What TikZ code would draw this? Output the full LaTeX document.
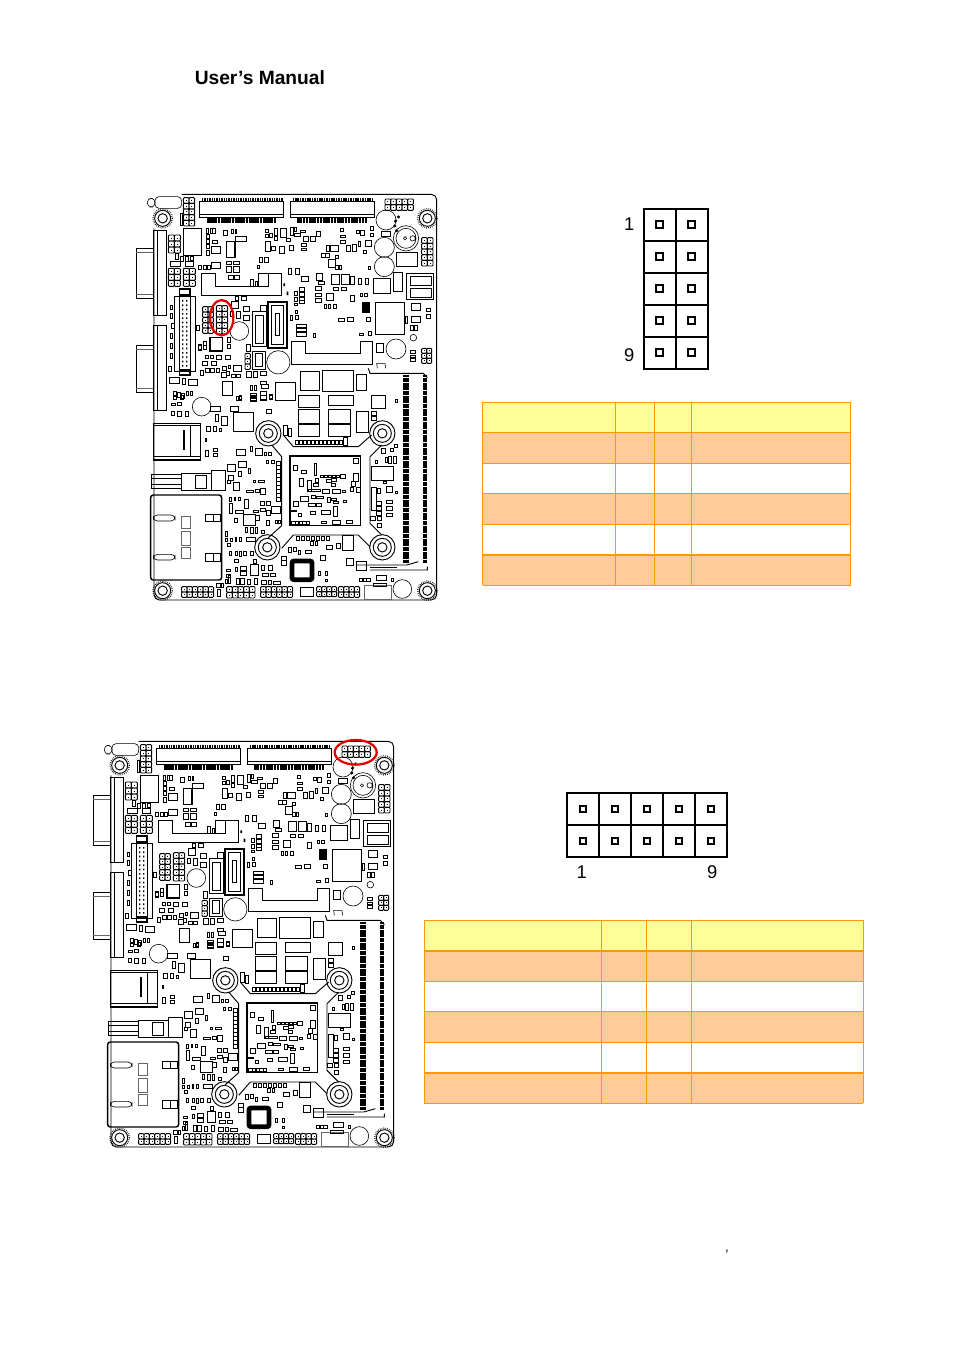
\documentclass[tikz,border=0pt]{standalone}
\usepackage{fontspec}
\setmainfont{Liberation Sans}
\usetikzlibrary{positioning,shapes.geometric}
\definecolor{headfill}{HTML}{FFFF99}
\definecolor{rowfill}{HTML}{FFCC99}
\definecolor{rowline}{HTML}{FF9900}
\tikzset{
    % board drawing
    part/.style={draw=black,line width=.45pt},
    greypart/.style={draw=black!60,line width=.7pt},
    heavypart/.style={draw=black,line width=1.1pt},
    % pin header cells
    pincell/.style={rectangle,draw=black,line width=1.5pt,minimum size=24pt,inner sep=0pt,outer sep=0pt},
    pinhole/.style={rectangle,draw=black,line width=1.5pt,minimum size=5pt,inner sep=0pt},
    pinlabel/.style={inner sep=0pt,font=\fontsize{13.8pt}{15pt}\selectfont},
    % red marks on the board
    redmark/.style={ellipse,draw=red!90!black,line width=1.7pt,inner sep=0pt}
}
% x, y, columns, rows, pitch: header on the board
\newcommand\boardhdr[5]{
  \foreach \c in {1,...,#3}
    \foreach \r in {1,...,#4} {
      \draw[draw=black,line width=.65pt,rounded corners=.7pt] ({#1+(\c-1)*#5},{#2+(\r-1)*#5}) rectangle ++(#5,#5);
      \fill ({#1+(\c-.5)*#5-1.5},{#2+(\r-.5)*#5-1.5}) rectangle ++(3,3);
    }
}
% x0, y0, x1, y1 with the coordinates of the top part of the board
\newcommand\boardart{
  % outline
  \draw[part,line width=.7pt,rounded corners=4pt] (125,28) -- (890,28) -- (890,1245) -- (42,1245) -- (42,130);
  % ports on the left
  \foreach \a/\b/\c/\d in {40/135/78/390,40/420/78/675}
    \draw[heavypart,line width=.7pt] (\a,\b) rectangle (\c,\d) (52,\b) -- (52,\d);
  \foreach \a/\b in {190/340,480/622} {
    \draw[part] (-12,\a) rectangle (40,\b);
    \draw[greypart] (-12,\a+12) -- (40,\a+12) (-12,\b-12) -- (40,\b-12);
  }
  \draw[part,rounded corners=3pt] (45,35) rectangle (125,70);
  \draw[part,rounded corners=3pt] (22,40) rectangle (45,66);
  % mini card slots
  \foreach \a in {178,450} {
    \draw[part,line width=.7pt] (\a,50) rectangle (\a+253,98);
    \draw[line width=2.5pt,dash pattern=on 1.1pt off .7pt] (\a+8,43) -- (\a+250,43);
    \draw[line width=4.4pt,dash pattern=on 1.7pt off .4pt] (\a+22,104) -- (\a+230,104);
    \draw[part] (\a,88) -- (\a+253,88);
  }
  % headers
  \boardhdr{130}{38}{2}{5}{17}
  \boardhdr{735}{42}{5}{2}{17}
  \boardhdr{845}{158}{2}{5}{17}
  \boardhdr{85}{150}{2}{3}{18}
  \boardhdr{85}{250}{2}{3}{18}
  \boardhdr{130}{250}{2}{3}{18}
  \boardhdr{188}{365}{2}{5}{16}
  \boardhdr{229}{362}{2}{5}{17}
  \boardhdr{845}{490}{2}{3}{15}
  \boardhdr{315}{505}{1}{3}{16}
  % round parts
  \foreach \a/\b/\c in {738/105/30,733/187/30,733/245/30,298/438/28,415/532/35,768/492/30,820/458/10,
    185/665/28,787/1212/28}
    \draw[part] (\a,\b) circle (\c);
  \foreach \a/\b in {68/100,862/100,68/1217,862/1217} {
    \draw[part,densely dotted,line width=1pt] (\a,\b) circle (29);
    \draw[part,line width=.7pt] (\a,\b) circle (24) (\a,\b) circle (14);
  }
  \foreach \a/\b in {385/745,727/745,382/1087,727/1087} {
    \draw[part,line width=.7pt] (\a,\b) circle (38) (\a,\b) circle (27) (\a,\b) circle (14);
  }
  \draw[part] (798,160) circle (38) (798,160) circle (30) (818,160) circle (8) (795,160) circle (5);
  \draw[line width=1.8pt,dotted] (772,140) arc (140:240:32);
  % slots with a cut out
  \draw[part,line width=.7pt] (185,265) -- (225,265) -- (225,305) -- (385,305) -- (385,265) -- (425,265) -- (425,332) -- (185,332) -- cycle;
  \draw[part,line width=.7pt] (455,470) -- (497,470) -- (497,505) -- (660,505) -- (660,470) -- (697,470) -- (697,537) -- (455,537) -- cycle;
  % large and middle parts
  \foreach \a/\b/\c/\d in {130/130/185/210,700/280/752/325,760/262/788/318,707/352/793/448,768/203/833/243,800/265/880/342,
    810/275/875/300,810/310/875/338,247/590/277/630,405/592/465/645,480/558/538/615,547/557/640/620,648/568/680/615,
    710/475/730/503,530/265/548/285,575/268/597/297,605/268/628/297,338/380/378/485,338/498/375/552,345/390/370/475,345/505/368/545}
    \draw[part,line width=.6pt] (\a,\b) rectangle (\c,\d);
  \foreach \a/\b/\c/\d in {260/170/285/218,422/130/440/157,210/458/248/498}
    \draw[heavypart] (\a,\b) rectangle (\c,\d);
  \fill (665,350) rectangle (690,385);
  \draw[heavypart,line width=1.7pt] (385,352) rectangle (440,488);
  \draw[part] (405,385) rectangle (418,452) (395,362) rectangle (430,478);
  % small parts, top half
  \foreach \a/\b/\c/\d in {120/85/128/120,198/130/205/145,210/130/217/145,218/130/225/145,250/135/262/152,275/132/280/145,285/132/290/145,
    200/148/208/160,200/163/208/175,200/178/208/190,200/195/208/210,218/165/232/175,215/185/240/205,285/155/320/170,215/232/240/250,
    258/230/275/238,280/230/298/238,258/245/275/262,280/245/298/262,265/272/280/282,283/272/298/282,175/240/185/252,190/240/200/252,203/240/212/252,
    90/228/120/245,135/230/160/245,105/205/115/222,120/215/130/228,135/215/145/228,150/215/160/225,332/283/340/303,345/288/352/303,355/265/385/303,
    375/170/392/200,395/185/407/197,418/185/432/205,448/180/460/195,375/133/385/143,375/148/385/157,388/145/398/157,403/130/412/150,403/155/412/167,
    450/128/460/150,440/160/452/170,462/128/470/138,462/145/480/155,480/135/495/142,490/155/505/170,485/175/500/185,485/190/500/197,510/155/525/170,
    530/138/542/153,600/130/610/140,600/150/615/158,600/165/615/175,648/135/658/145,662/135/672/150,690/125/700/135,690/145/700/155,655/170/662/185,
    638/178/648/198,620/180/632/200,675/165/695/185,670/195/680/205,685/245/690/252,558/182/568/200,570/182/595/200,545/205/555/218,557/205/567/218,
    565/222/585/248,585/210/595/220,585/240/595/252,598/240/605/252,352/240/358/250,358/218/368/232,372/218/385/232,445/250/455/268,465/250/478/268,
    483/275/505/288,535/288/552/298,632/275/642/297,655/280/665/297,675/280/685/297,525/305/545/315,525/325/545/335,525/340/545/352,580/308/595/316,
    605/308/620/316,560/325/580/345,553/358/560/370,565/358/572/370,580/358/590/370,630/332/642/350,660/325/668/335,672/325/682/335,462/318/472/330,
    462/338/472/348,462/355/472/362,478/308/492/320,478/322/492/334,478/336/492/346,478/347/492/356,595/400/612/410,622/398/640/408,680/398/692/408,
    658/445/670/452,685/440/695/452,520/445/525/458,465/375/472/385,465/392/475/402,450/390/458/405,470/418/500/428,470/430/500/440,470/442/500/455,
    725/140/752/155,815/355/840/375,815/395/840/412,860/370/870/380,860/388/870/400,810/422/820/437,822/422/832/437,795/395/802/415,810/495/825/505,
    810/510/825/518,810/520/825/530,360/360/378/378,310/365/328/378,310/392/328/405,285/335/295/345,305/335/320/345,275/350/295/370,290/380/300/400,
    270/380/280/395,262/458/272/472,262/478/272/490,190/470/198/480,190/482/198/492,175/478/183/492,195/510/205/520,212/510/220/520,228/512/245/522,
    255/512/272/522,188/530/202/542,215/530/230/542,182/556/190/570,195/550/208/562,212/550/222/562,228/550/238/562,248/545/258/555,265/540/272/550,
    280/540/305/560,245/562/258/578,275/568/285/578,290/568/300/578,260/560/268/570,318/478/330/500,318/560/335/578,340/560/352/578,360/560/378/572,
    360/590/378/598,298/632/305/642,330/600/338/615,342/602/348/615,365/598/385/610,332/625/348/635,332/640/348/645,362/620/378/645,388/628/396/640,
    88/578/118/595,145/582/172/600,128/580/137/598,100/620/108/635,112/622/120/638,125/625/132/640,138/618/146/630,150/618/158/630,
    90/362/98/372,90/385/98/400,95/415/103/430,90/445/98/460,90/475/98/490,90/505/98/520,85/545/95/560,170/420/178/435,175/480/183/495}
    \draw[part] (\a,\b) rectangle (\c,\d);
  \fill (430,295) rectangle (435,303) (440,320) rectangle (445,330);
  % long connector
  \draw[part,line width=.6pt] (103,335) rectangle (165,560) (118,335) rectangle (150,560);
  \draw[heavypart] (118,312) rectangle (150,330) (118,555) rectangle (150,570);
  \foreach \d in {345,358,...,550}
    \fill (126,\d) rectangle ++(4,5) (138,\d) rectangle ++(4,5);
  % memory slot
  \draw[line width=4.5pt,dash pattern=on 1.6pt off .35pt] (798,570) -- (798,1135);
  \draw[line width=3pt,dash pattern=on 1.6pt off .35pt] (856,570) -- (856,1135);
  \draw[part,line width=.7pt] (685,550) -- (690,565) -- (850,565) -- (862,578);
  \draw[part] (710,535) -- (712,550) (735,535) -- (737,550) (710,535) -- (735,535);
  \draw[part,line width=.7pt] (650,1140) -- (800,1140) -- (835,1130) (690,1155) -- (862,1155) -- (862,1145);
  \draw[heavypart] (690,1148) -- (770,1148);
  \draw[part] (650,1130) rectangle (680,1155);
  % lower half: coordinates of the second crop
  \begin{scope}[shift={(0,630)}]
    % heat sink outline
    \draw[part,line width=.7pt] (395,150) -- (425,185) -- (425,392) -- (385,428)
      (430,120) -- (460,155) -- (655,155) -- (695,120)
      (725,150) -- (690,185) -- (690,385) -- (725,420)
      (425,460) -- (460,420) -- (655,420) -- (690,455);
    \draw[part,line width=.8pt] (450,183) rectangle (662,392);
    % ports
    \draw[heavypart] (40,85) rectangle (182,195);
    \draw[part] (150,92) rectangle (182,185) (40,92) -- (150,92) (40,185) -- (150,185);
    \fill (128,105) rectangle (135,165);
    \draw[part,line width=.7pt] (35,238) rectangle (125,280) (125,235) rectangle (215,285) (165,240) rectangle (200,280) (215,225) rectangle (255,285);
    \draw[part] (35,250) -- (125,250) (35,268) -- (125,268);
    \draw[heavypart,rounded corners=2pt] (32,300) rectangle (245,555);
    \draw[part,rounded corners=3pt] (40,360) rectangle (105,378) (40,478) rectangle (105,495);
    \draw[part] (195,358) rectangle (242,380) (195,475) rectangle (242,500) (195,358) rectangle (220,380) (195,475) rectangle (220,500);
    \draw[greypart] (125,365) rectangle (150,400) (125,410) rectangle (150,450) (125,458) rectangle (150,490);
    % chip
    \draw[line width=3.6pt,rounded corners=1.5pt] (456,498) rectangle (516,554);
    % bottom headers
    \boardhdr{125}{575}{6}{2}{16}
    \boardhdr{260}{575}{5}{2}{17}
    \boardhdr{362}{575}{6}{2}{16}
    \boardhdr{530}{575}{4}{2}{15}
    \boardhdr{595}{575}{4}{2}{16}
    \draw[heavypart] (482,578) rectangle (520,605);
    \draw[greypart] (672,570) rectangle (755,612);
    \draw[part] (700,565) rectangle (740,575);
    % small parts, lower half
    \foreach \a/\b/\c/\d in {225/58/235/80,245/65/262/90,200/95/210/110,220/95/228/110,238/100/243/108,195/130/200/140,197/165/205/185,220/160/232/170,
      220/175/232/185,280/52/340/110,290/5/295/15,298/5/305/15,332/0/348/8,332/10/348/18,378/42/395/55,360/0/378/12,388/0/396/12,210/35/240/50,270/35/295/50,
      95/25/105/32,112/22/125/32,95/50/103/60,112/50/125/65,135/50/145/65,100/0/110/12,120/0/130/12,475/0/537/38,565/0/640/30,475/42/537/85,565/42/630/85,
      475/88/537/125,565/88/630/125,648/48/686/112,695/0/735/40,765/12/772/22,695/50/708/62,695/65/708/75,610/128/622/150,445/100/455/125,430/90/443/120,
      725/160/737/175,750/160/760/170,762/148/772/158,735/188/742/203,745/185/755/205,760/185/768/205,705/195/712/205,695/215/760/255,730/260/738/265,
      695/278/708/345,712/280/722/295,740/275/757/293,765/288/772/296,710/318/725/330,710/333/725/345,710/348/725/360,740/315/758/325,740/335/758/345,
      740/355/758/365,712/365/725/375,712/385/725/397,690/365/705/375,290/162/315/180,330/155/338/170,345/160/368/180,372/172/380/182,385/172/395/182,
      378/195/385/205,395/195/402/205,262/208/285/230,295/200/318/218,325/220/332/235,265/240/280/255,295/230/303/245,280/262/298/285,262/255/270/265,
      340/255/346/262,355/255/372/262,320/285/340/292,345/282/358/292,362/280/375/298,268/308/275/318,282/308/287/315,295/308/300/315,312/312/325/340,
      268/325/278/355,285/345/310/355,340/345/355/352,360/318/372/332,378/318/390/332,362/340/375/350,380/345/390/360,395/335/422/355,310/358/345/390,
      282/370/292/382,345/362/358/375,378/375/388/392,405/375/412/385,414/375/421/385,315/398/322/412,330/398/340/415,345/398/353/415,365/405/372/415,
      255/408/262/425,255/430/262/440,270/430/278/440,285/428/290/438,298/428/305/438,320/428/345/438,262/445/272/455,268/470/275/480,285/470/292/480,
      298/470/305/485,310/470/318/480,282/492/295/502,330/470/340/480,340/492/348/505,330/508/355/540,365/510/373/525,385/510/397/525,300/515/320/525,
      300/530/320/540,285/518/293/528,258/522/272/530,258/538/272/548,255/552/262/565,265/540/272/565,288/550/298/568,300/550/312/568,322/552/330/568,
      342/550/352/568,365/555/380/568,385/555/395/568,400/558/420/568,368/535/385/545,390/535/405/545,445/458/455/472,460/458/468/470,475/465/482/478,
      495/465/515/475,540/482/555/495,425/485/440/495,425/497/440/510,510/438/520/452,525/440/533/452,558/450/578/462,590/445/600/460,608/422/640/465,
      620/490/640/512,535/528/542/540,555/528/562/540,555/552/562/560,708/540/738/555,755/550/760/558,230/565/240/578,243/565/250/578,232/582/242/603,
      460/212/472/225,485/225/500/235,523/205/530/240,600/238/617/250,640/190/655/205,640/235/655/260,478/250/490/275,503/255/513/290,525/250/535/262,
      520/265/535/275,560/252/575/262,575/250/590/260,575/265/585/275,635/260/645/275,650/278/660/292,630/278/640/288,505/282/540/290,548/282/568/295,
      578/282/600/295,608/285/615/293,480/303/505/318,460/320/475/335,515/300/525/310,530/303/550/310,562/308/572/322,575/310/590/316,580/320/595/326,
      610/315/620/322,505/325/525/335,530/325/545/335,580/335/592/365,545/345/570/357,510/350/525/357,475/355/483/365,455/345/470/350,545/378/560/385,
      578/375/600/388,620/375/637/385}
      \draw[part] (\a,\b) rectangle (\c,\d);
    % chains of small parts
    \foreach \d in {465,477,...,600}
      \draw[part] (\d,135) rectangle ++(10,12);
    \foreach \d in {200,212,...,310}
      \draw[part] (410,\d) rectangle ++(12,10);
    \foreach \d in {540,552,...,590}
      \draw[part] (\d,240) rectangle ++(10,7);
    \foreach \d in {455,466,...,500}
      \draw[part] (\d,378) rectangle ++(10,10);
    \foreach \d in {658,669,...,690}
      \draw[part] (\d,550) rectangle ++(10,10);
    \foreach \d in {470,485,...,560}
      \draw[part] (\d,425) rectangle ++(8,10);
  \end{scope}
}

\begin{document}
\begin{tikzpicture}[x=.75pt,y=-.75pt]
  \useasboundingbox (0,0) rectangle (954,1350);
  \node[anchor=base west,inner sep=0pt,font=\bfseries\fontsize{14.4pt}{16pt}\selectfont] (title) at (194.5,84.7) {User’s Manual};

  % boards
  \begin{scope}[shift={(140,185)},x=.25pt,y=-.25pt]
    \boardart
  \end{scope}
  \begin{scope}[shift={(97,732)},x=.25pt,y=-.25pt]
    \boardart
  \end{scope}
  \node[redmark,minimum width=17.5pt,minimum height=26.5pt] (markone) at (221.7,317.7) {};
  \node[redmark,minimum width=31.5pt,minimum height=18.5pt] (marktwo) at (355.7,752.3) {};

  % upright header
  \foreach \r in {0,...,4}
    \foreach \c in {0,1} {
      \node[pincell] (up\r\c) at (659.5+32*\c,224.8+32*\r) {};
      \node[pinhole] at (up\r\c) {};
    }
  \node[pinlabel] (upone) at (629.3,224.3) {1};
  \node[pinlabel] (upnine) at (629.3,355) {9};

  % flat header
  \foreach \c in {0,...,4}
    \foreach \r in {0,1} {
      \node[pincell] (fl\c\r) at (583+32*\c,809+32*\r) {};
      \node[pinhole] at (fl\c\r) {};
    }
  \node[pinlabel] (flone) at (581.7,871.7) {1};
  \node[pinlabel] (flnine) at (712.3,871.7) {9};

  % tables
  \foreach \a/\b/\f in {402.3/432.7/headfill,432.7/463.3/rowfill,493.7/524.3/rowfill,555/585/rowfill}
    \fill[\f] (482.7,\a) rectangle (850.7,\b);
  \foreach \d in {402.3,463.3,524.3,585}
    \draw[rowline,line width=.6pt] (482.7,\d) -- (850.7,\d);
  \foreach \d in {432.7,493.7,555}
    \draw[rowline,line width=1.1pt] (482.7,\d) -- (850.7,\d);
  \foreach \d/\w in {482.7/1.1,615.7/1,654.3/.6,691.7/1,850.7/.7}
    \draw[rowline,line width=\w pt] (\d,402.3) -- (\d,585);

  \foreach \a/\b/\f in {920.3/951/headfill,951/981.3/rowfill,1011.7/1042.3/rowfill,1073/1103.3/rowfill}
    \fill[\f] (424.3,\a) rectangle (863.3,\b);
  \foreach \d in {920.3,981.3,1042.3,1103.3}
    \draw[rowline,line width=.7pt] (424.3,\d) -- (863.3,\d);
  \foreach \d in {951,1011.7,1073}
    \draw[rowline,line width=1.1pt] (424.3,\d) -- (863.3,\d);
  \foreach \d/\w in {424.3/1,601.3/.6,646.7/1.1,691.3/.6,863.3/1}
    \draw[rowline,line width=\w pt] (\d,920.3) -- (\d,1103.3);

  \node[anchor=base,inner sep=0pt,font=\fontsize{10pt}{11pt}\selectfont] (tick) at (727,1251) {,};
\end{tikzpicture}
\end{document}
